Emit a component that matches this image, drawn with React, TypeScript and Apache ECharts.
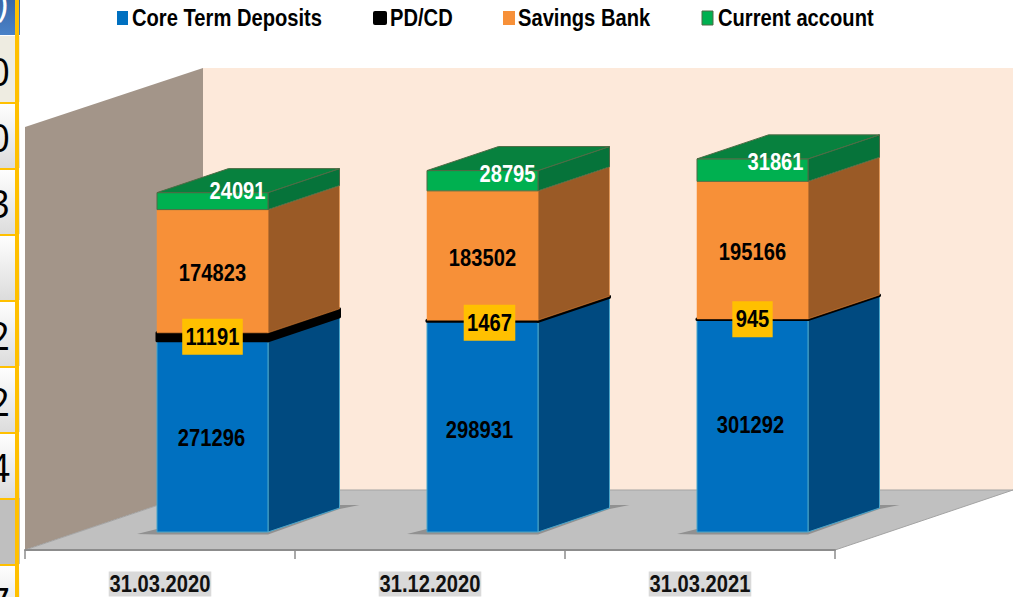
import React, { useEffect, useRef } from "react";
import * as echarts from "echarts";

const categories = ["31.03.2020", "31.12.2020", "31.03.2021"];
const coreTermDeposits = [271296, 298931, 301292];
const pdCd = [11191, 1467, 945];
const savingsBank = [174823, 183502, 195166];
const currentAccount = [24091, 28795, 31861];
const stripDigits = ["0", "0", "3", "2", "2", "4", "7"];

const FONT = "'Liberation Sans', Arial, sans-serif";
const NARROW = 0.84;

type Look = {
  name: string; values: number[]; front: string; side: string; top: string; edge: string; edgeW: number;
  label: string; labelBg?: string; labelDx: number[]; labelDy: number[];
  keyX: number; keyW: number; textX: number;
};
const looks: Look[] = [
  { name: "Core Term Deposits", values: coreTermDeposits, front: "#0070c0", side: "#004a80", top: "#004a80", edge: "#4aa5c9", edgeW: 1, label: "#000", labelDx: [-1, -3, -2], labelDy: [2, 3, -1], keyX: 117, keyW: 11, textX: 132 },
  { name: "PD/CD", values: pdCd, front: "#000000", side: "#000000", top: "#000000", edge: "#000000", edgeW: 3, label: "#000", labelBg: "#ffc000", labelDx: [0, 7, 0], labelDy: [0, 2, 0], keyX: 373, keyW: 14, textX: 390 },
  { name: "Savings Bank", values: savingsBank, front: "#f79038", side: "#9a5a26", top: "#9a5a26", edge: "#f79038", edgeW: 0.5, label: "#000", labelDx: [0, 0, 0], labelDy: [2, 2, 2], keyX: 503, keyW: 12, textX: 518 },
  { name: "Current account", values: currentAccount, front: "#00b050", side: "#06733a", top: "#07813e", edge: "#4f6b45", edgeW: 1, label: "#fff", labelDx: [25, 25, 23], labelDy: [-10, -7, -8], keyX: 702, keyW: 11, textX: 718 },
];

const SHIFT_X_RATIO = 52.5 / 270;
const WIDTH_RATIO = 111 / 270;
const SHIFT_Y = 18;
const DEPTH_X = 71.5;
const DEPTH_Y = 24;

function segmentSeries(look: Look, index: number) {
  const data = categories.map((_, c) => {
    let start = 0;
    for (let s = 0; s < index; s++) start += looks[s].values[c];
    return [c, start, start + look.values[c]];
  });
  return {
    type: "custom",
    name: look.name,
    z: 3,
    itemStyle: { color: look.front },
    encode: { x: 0, y: [1, 2] },
    data,
    renderItem: (params: any, api: any) => {
      const c = api.value(0);
      const [cx, y0] = api.coord([c, api.value(1)]);
      const [, y1] = api.coord([c, api.value(2)]);
      const band = api.size([1, 0])[0];
      const w = band * WIDTH_RATIO;
      const xL = cx + band * SHIFT_X_RATIO - w / 2;
      const xR = xL + w;
      const yB = y0 - SHIFT_Y;
      const yT = y1 - SHIFT_Y;
      const lw = look.edgeW;
      const kids: any[] = [];
      if (index === 0) {
        kids.push({
          type: "polygon",
          shape: {
            points: [
              [xL - 20, yB + 2], [xL, yB - 3], [xR + DEPTH_X, yB - DEPTH_Y - 3],
              [xR + DEPTH_X + 20, yB - DEPTH_Y - 3], [xR + DEPTH_X, yB - DEPTH_Y + 1], [xR, yB + 2.5], [xL, yB + 2.5],
            ],
          },
          style: { fill: "#858585", opacity: 0.8 },
        });
      }
      kids.push({
        type: "polygon",
        shape: { points: [[xR, yB], [xR + DEPTH_X, yB - DEPTH_Y], [xR + DEPTH_X, yT - DEPTH_Y], [xR, yT]] },
        style: { fill: look.side, stroke: look.edge, lineWidth: lw, lineJoin: "round" },
      });
      kids.push({
        type: "rect",
        shape: { x: xL, y: yT, width: w, height: yB - yT },
        style: { fill: look.front, stroke: look.edge, lineWidth: lw, lineJoin: "round" },
      });
      if (index === looks.length - 1) {
        kids.push({
          type: "polygon",
          shape: { points: [[xL, yT], [xL + DEPTH_X, yT - DEPTH_Y], [xR + DEPTH_X, yT - DEPTH_Y], [xR, yT]] },
          style: { fill: look.top, stroke: look.edge, lineWidth: lw },
        });
      }
      kids.push({
        type: "text",
        z2: 100,
        x: xL + w / 2 + look.labelDx[c],
        y: (yB + yT) / 2 + look.labelDy[c],
        scaleX: NARROW,
        style: {
          text: String(look.values[c]),
          fill: look.label,
          font: `bold 24px ${FONT}`,
          align: "center",
          verticalAlign: "middle",
          ...(look.labelBg ? { backgroundColor: look.labelBg, padding: [9, 4, 3, 4] } : {}),
        },
      });
      return { type: "group", children: kids };
    },
  };
}

const categoryLabelSeries = {
  type: "custom",
  name: "category labels",
  z: 4,
  encode: { x: 0, y: 1 },
  data: categories.map((_, c) => [c, 0]),
  silent: true,
  renderItem: (params: any, api: any) => {
    const c = api.value(0);
    const [cx, y0] = api.coord([c, 0]);
    return {
      type: "text",
      x: cx,
      y: y0 + 34,
      scaleX: NARROW,
      style: {
        text: categories[c],
        fill: "#111",
        font: `bold 24px ${FONT}`,
        align: "center",
        verticalAlign: "middle",
        backgroundColor: "#d9d9d9",
        padding: [1, 1, 0, 1],
      },
    };
  },
};

function legendGraphics() {
  const out: any[] = [];
  looks.forEach((l) => {
    out.push({
      type: "rect", z: 5,
      shape: { x: l.keyX, y: 11, width: l.keyW, height: 14, r: l.name === "PD/CD" ? 2 : 0 },
      style: { fill: l.front, stroke: l.name === "Current account" ? "#4f6b45" : "none", lineWidth: 1 },
    });
    out.push({
      type: "text", z: 5, x: l.textX, y: 18, scaleX: NARROW,
      style: { text: l.name, fill: "#000", font: `bold 24px ${FONT}`, align: "left", verticalAlign: "middle" },
    });
  });
  return out;
}

const stripTop = 36;
const stripStep = 66;

function stripGraphics() {
  const out: any[] = [];
  out.push({ type: "rect", z: 1, shape: { x: 0, y: 0, width: 20, height: 35 }, style: { fill: { type: "linear", x: 0, y: 0, x2: 0, y2: 1, colorStops: [{ offset: 0, color: "#3a68a8" }, { offset: 1, color: "#4a82c8" }] } } });
  out.push({ type: "text", z: 2, x: 8, y: 2, style: { text: ")", fill: "#fff", font: "38px 'Open Sans'", align: "right", verticalAlign: "middle" } });
  for (let i = 0; i < 9; i++) {
    const y = stripTop + i * stripStep;
    const fill = i === 0 ? "#eeece1" : i === 7 ? "#bfbfbf" : { type: "linear", x: 0, y: 0, x2: 0, y2: 1, colorStops: [{ offset: 0, color: "#ffffff" }, { offset: 1, color: "#dcdcdc" }] };
    out.push({ type: "rect", z: 1, shape: { x: 0, y, width: 20, height: stripStep }, style: { fill } });
    out.push({ type: "rect", z: 2, shape: { x: 0, y: y + 66, width: 19, height: 2 }, style: { fill: "#ffc000" } });
  }
  out.push({ type: "rect", z: 2, shape: { x: 15, y: 0, width: 4, height: 597 }, style: { fill: "#ffc000" } });
  const rows = [0, 1, 2, 4, 5, 6, 8];
  stripDigits.forEach((d, i) => {
    out.push({
      type: "text", z: 3, x: 10, y: 71 + rows[i] * 66 + (i === 6 ? 2 : 0),
      style: { text: d, fill: "#000", font: "38px 'Open Sans'", align: "right", verticalAlign: "middle" },
    });
  });
  return out;
}

export default function App() {
  const ref = useRef<HTMLDivElement>(null);
  useEffect(() => {
    document.body.style.margin = "0";
    const chart = echarts.init(ref.current!, undefined, { renderer: "svg" });
    chart.setOption({
      animation: false,
      backgroundColor: "#fff",
      grid: { left: 25, right: 188, top: 127, height: 423 },
      xAxis: {
        type: "category",
        data: categories,
        axisLine: { lineStyle: { color: "#8c8c8c", width: 2 } },
        axisTick: { show: true, length: 9, lineStyle: { color: "#8c8c8c", width: 1.5 } },
        axisLabel: { show: false },
      },
      yAxis: { type: "value", min: 0, max: 600000, show: false, splitLine: { show: false } },
      graphic: [
        { type: "polygon", z: -1, shape: { points: [[203, 68], [1013, 68], [1013, 490], [203, 490]] }, style: { fill: "#fde9da" } },
        { type: "polygon", z: -1, shape: { points: [[25, 127], [203, 68], [203, 490], [25, 550]] }, style: { fill: "#a39589" } },
        { type: "polygon", z: -1, shape: { points: [[203, 490], [1013, 490], [835, 550], [25, 550]] }, style: { fill: "#c0c0c0", stroke: "#a3a3a3", lineWidth: 1 } },
        ...legendGraphics(),
        ...stripGraphics(),
      ],
      series: [...looks.map(segmentSeries), categoryLabelSeries],
    });
    return () => chart.dispose();
  }, []);
  return <div ref={ref} style={{ width: 1023, height: 597 }} />;
}
